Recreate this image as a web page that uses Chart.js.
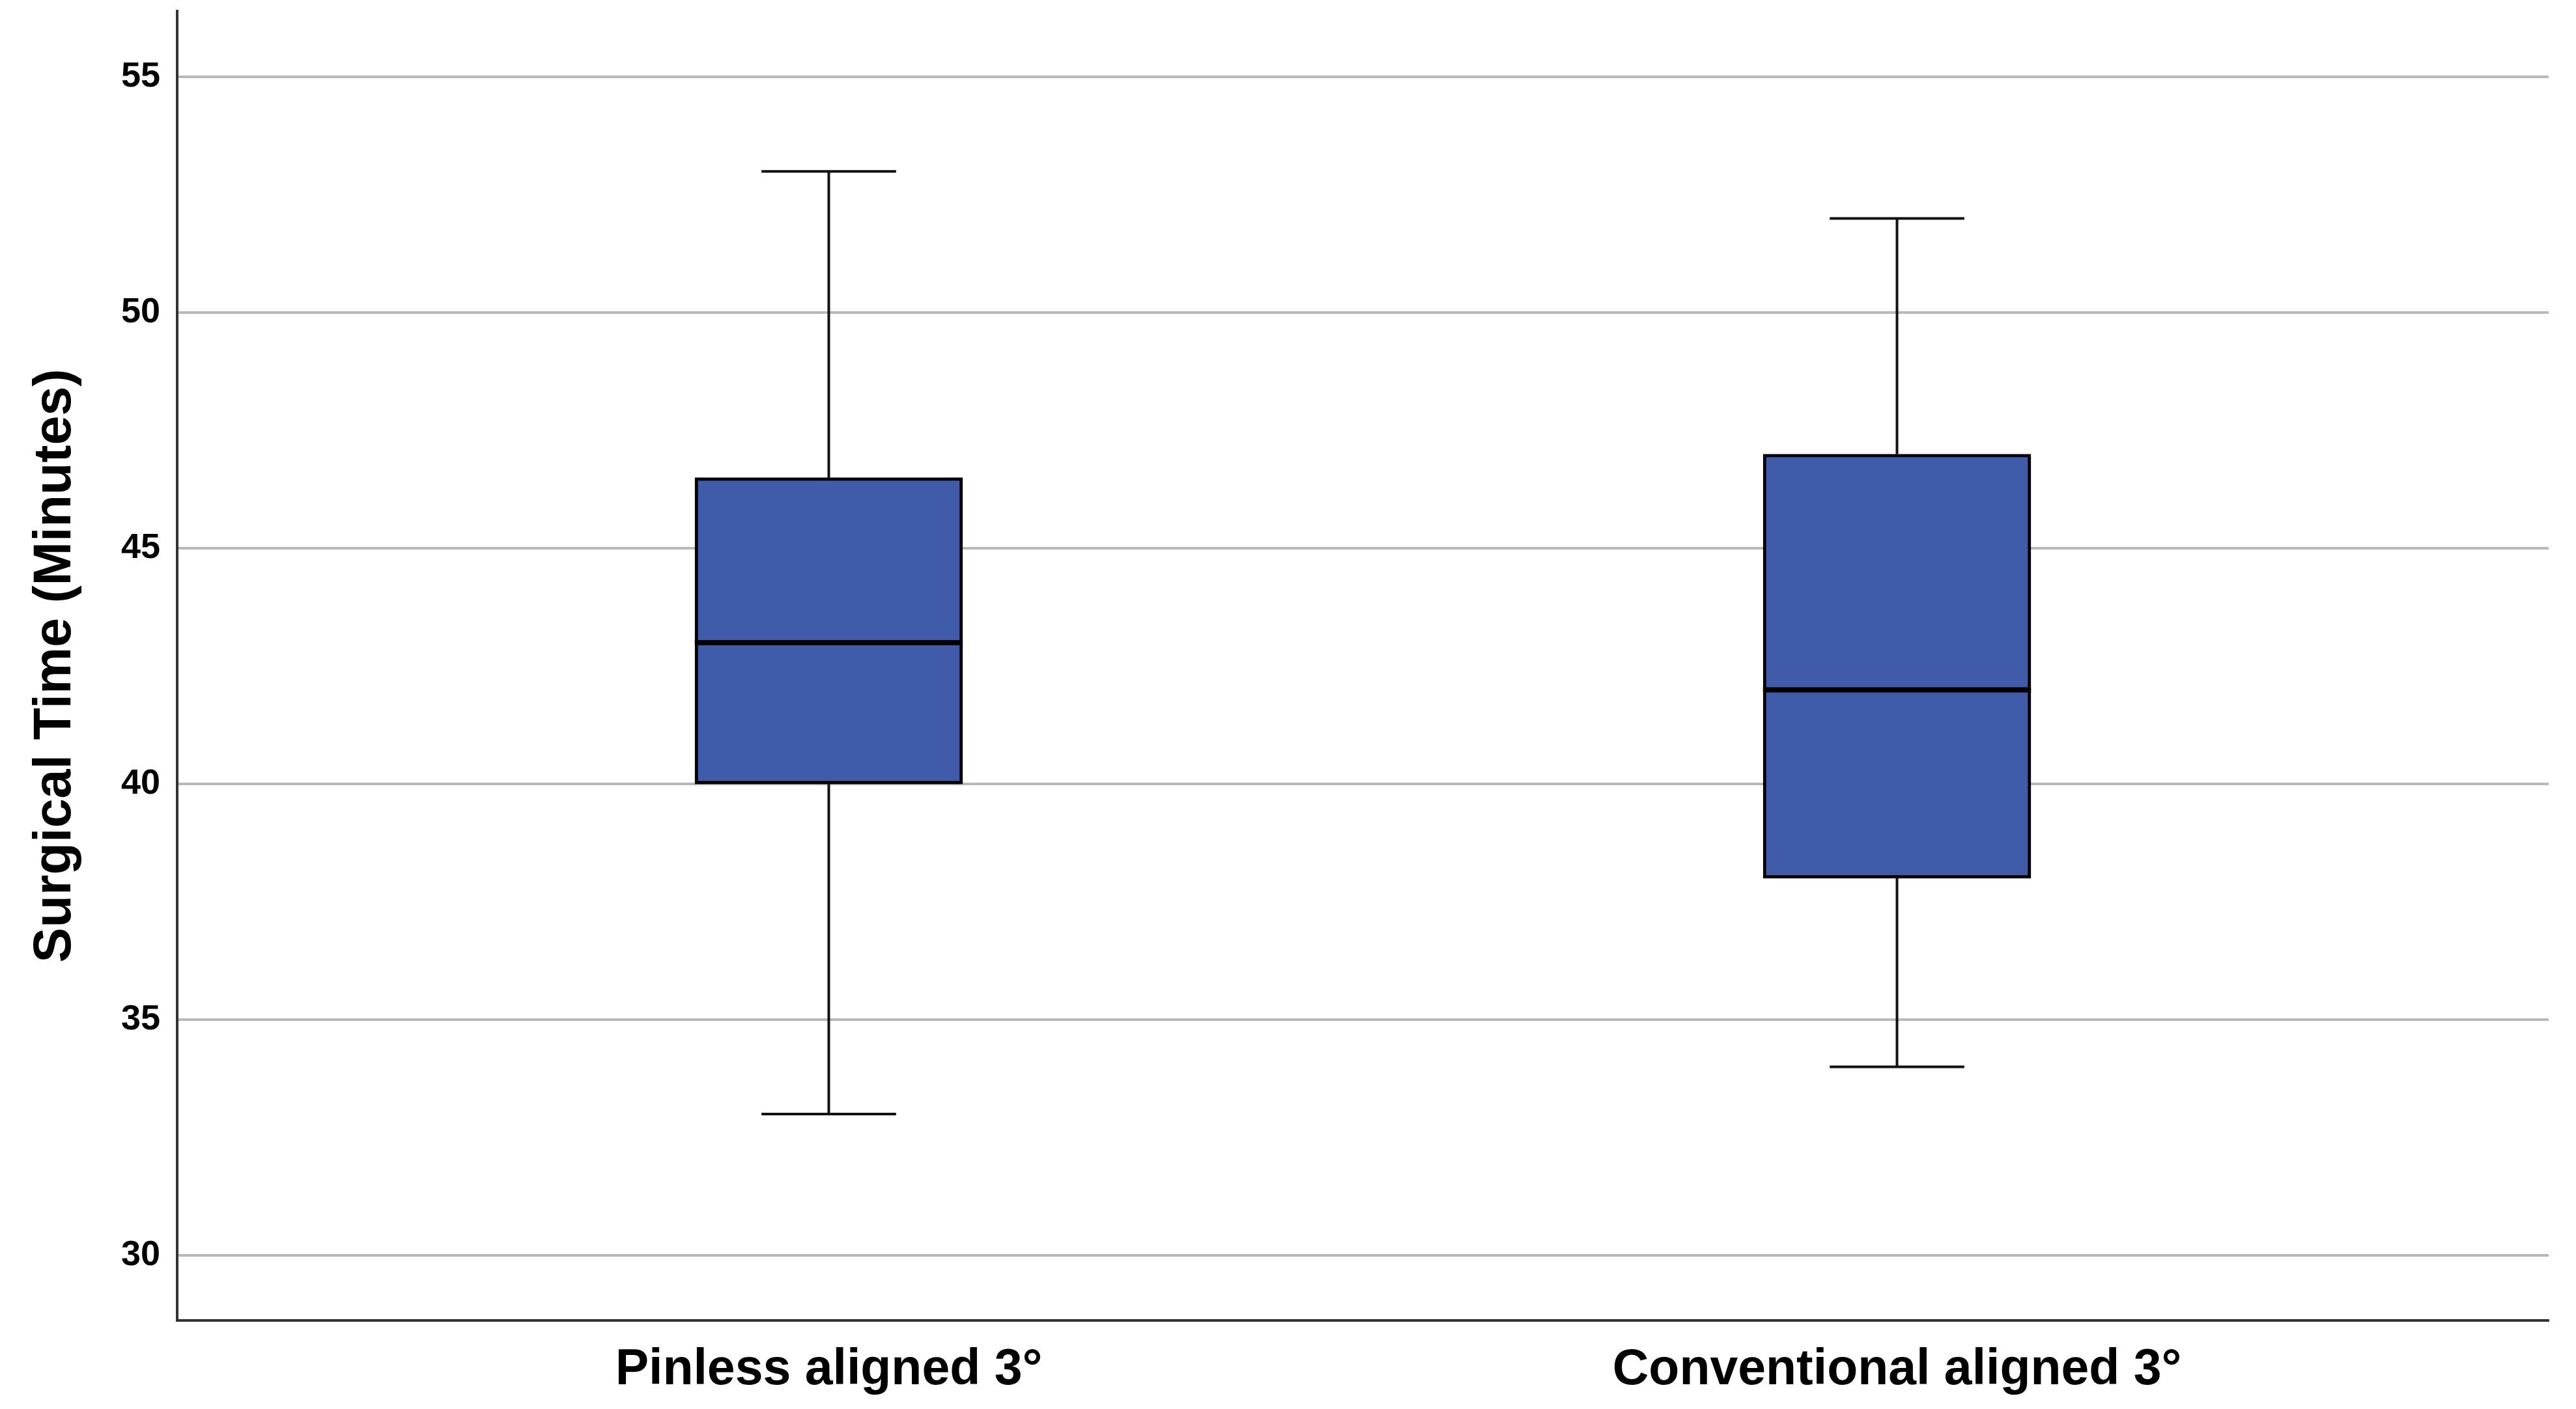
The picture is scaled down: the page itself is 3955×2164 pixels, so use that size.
<!DOCTYPE html>
<html lang="en">
<head>
    <meta charset="UTF-8">
    <title>Surgical Time Box Plot</title>
    <script src="https://cdn.jsdelivr.net/npm/chart.js"></script>
    <style>
        html, body { margin: 0; padding: 0; background: #fff; }
        #wrap { width: 3955px; height: 2164px; position: relative; }
    </style>
</head>
<body>
    <div id="wrap">
        <canvas id="boxChart"></canvas>
    </div>

    <script>
        // Data
        const categories = ['Pinless aligned 3°', 'Conventional aligned 3°'];
        const whiskerLow = [33, 34];
        const q1 = [40, 38];
        const median = [43, 42];
        const q3 = [46.5, 47];
        const whiskerHigh = [53, 52];
        const yTicks = [30, 35, 40, 45, 50, 55];

        // Box geometry in x-axis units (one unit = distance between groups)
        const boxHalf = 0.1254;
        const capHalf = 0.063;
        const fontFamily = "'Liberation Sans', Arial, sans-serif";

        const boxData = categories.map((c, i) => ({ x: i, y: [q1[i], q3[i]] }));

        const stemData = [];
        const capData = [];
        const medianData = [];
        categories.forEach((c, i) => {
            stemData.push({ x: i, y: whiskerLow[i] }, { x: i, y: q1[i] }, { x: i, y: null });
            stemData.push({ x: i, y: q3[i] }, { x: i, y: whiskerHigh[i] }, { x: i, y: null });
            capData.push({ x: i - capHalf, y: whiskerLow[i] }, { x: i + capHalf, y: whiskerLow[i] }, { x: i, y: null });
            capData.push({ x: i - capHalf, y: whiskerHigh[i] }, { x: i + capHalf, y: whiskerHigh[i] }, { x: i, y: null });
            medianData.push({ x: i - boxHalf, y: median[i] }, { x: i + boxHalf, y: median[i] }, { x: i, y: null });
        });

        const lineStyle = {
            type: 'line',
            borderColor: '#111',
            pointRadius: 0,
            tension: 0,
            fill: false,
            spanGaps: false
        };

        const ctx = document.getElementById('boxChart').getContext('2d');
        new Chart(ctx, {
            type: 'bar',
            data: {
                datasets: [
                    {
                        label: 'IQR',
                        data: boxData,
                        backgroundColor: '#3f5ba9',
                        borderColor: '#000',
                        borderWidth: 5,
                        borderSkipped: false,
                        barThickness: 411,
                        grouped: false,
                        order: 2
                    },
                    Object.assign({}, lineStyle, { label: 'Median', data: medianData, borderColor: '#000', borderWidth: 8, order: 1 }),
                    Object.assign({}, lineStyle, { label: 'Whisker', data: stemData, borderWidth: 4, order: 3 }),
                    Object.assign({}, lineStyle, { label: 'Cap', data: capData, borderWidth: 4, order: 3 })
                ]
            },
            options: {
                responsive: true,
                maintainAspectRatio: false,
                animation: false,
                devicePixelRatio: 1,
                layout: { padding: { top: 17, right: 42, left: 0, bottom: 0 } },
                plugins: {
                    legend: { display: false },
                    tooltip: { enabled: false },
                    title: { display: false }
                },
                scales: {
                    x: {
                        type: 'linear',
                        min: -0.61,
                        max: 1.61,
                        offset: false,
                        grid: { display: false },
                        border: { display: true, color: '#333', width: 4 },
                        afterBuildTicks: axis => { axis.ticks = categories.map((c, i) => ({ value: i })); },
                        afterFit: axis => {
                            axis.height = 136;
                            axis.paddingLeft = 0;
                            axis.paddingRight = 0;
                        },
                        ticks: {
                            padding: 23,
                            color: '#000',
                            maxRotation: 0,
                            autoSkip: false,
                            font: { family: fontFamily, size: 77, weight: 'bold' },
                            callback: value => categories[value]
                        }
                    },
                    y: {
                        type: 'linear',
                        min: 28.62,
                        max: 56.4,
                        grid: { color: '#b8b8b8', lineWidth: 4, drawTicks: false },
                        border: { display: true, color: '#333', width: 4 },
                        afterBuildTicks: axis => { axis.ticks = yTicks.map(v => ({ value: v })); },
                        afterFit: axis => {
                            axis.width = 272;
                            axis.paddingTop = 0;
                            axis.paddingBottom = 0;
                        },
                        ticks: {
                            padding: 26,
                            color: '#000',
                            font: { family: fontFamily, size: 54, weight: 'bold' }
                        },
                        title: {
                            display: true,
                            text: 'Surgical Time (Minutes)',
                            color: '#000',
                            padding: { top: 37, bottom: 0 },
                            font: { family: fontFamily, size: 81, weight: 'bold' }
                        }
                    }
                }
            }
        });
    </script>
</body>
</html>
